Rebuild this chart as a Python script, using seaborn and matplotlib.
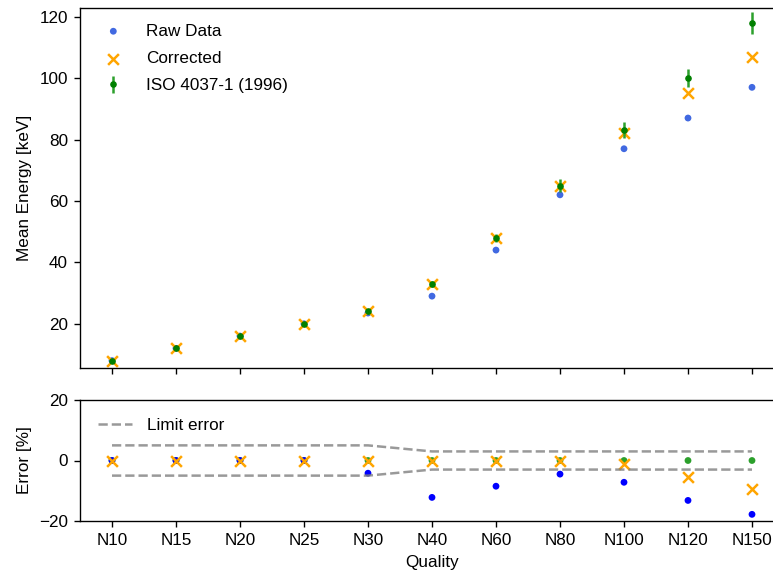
import numpy as np
import matplotlib
matplotlib.use('Agg')
import matplotlib.pyplot as plt
import seaborn as sns

# qualities and energies [keV]
quality = ['N10', 'N15', 'N20', 'N25', 'N30', 'N40', 'N60', 'N80', 'N100', 'N120', 'N150']
raw_energy = [8, 12, 16, 20, 23.5, 29, 44, 62, 77, 87, 97]
corr_energy = [8, 12, 16, 20, 24, 33, 48, 65, 82, 95, 107]
iso_energy = [8, 12, 16, 20, 24, 33, 48, 65, 83, 100, 118]
iso_err = [0.2, 0.4, 0.5, 0.6, 0.7, 1.0, 1.4, 2.0, 2.6, 3.0, 3.5]

# relative error [%]
raw_rel = [0, 0, 0, 0, -4.2, -12.2, -8.5, -4.5, -7.2, -13.2, -17.8]
corr_rel = [0, 0, 0, 0, 0, 0, 0, 0, -1.3, -5.3, -9.5]
iso_rel = [0] * 11
limit_up = [5, 5, 5, 5, 5, 3, 3, 3, 3, 3, 3]
limit_lo = [-5, -5, -5, -5, -5, -3, -3, -3, -3, -3, -3]

sns.set_theme(style='ticks')
plt.rcParams['font.family'] = ['Liberation Sans', 'DejaVu Sans']
sc = 1.23
plt.rcParams.update({
    'font.size': 10 * sc, 'axes.labelsize': 10 * sc, 'xtick.labelsize': 10 * sc,
    'ytick.labelsize': 10 * sc, 'legend.fontsize': 10 * sc,
    'xtick.major.size': 3.5 * sc, 'ytick.major.size': 3.5 * sc,
    'xtick.major.width': 0.8 * sc, 'ytick.major.width': 0.8 * sc,
    'xtick.major.pad': 3.5 * sc, 'ytick.major.pad': 3.5 * sc,
    'axes.linewidth': 0.8 * sc, 'axes.labelpad': 4 * sc,
    'text.color': 'black', 'axes.labelcolor': 'black',
    'xtick.color': 'black', 'ytick.color': 'black', 'axes.edgecolor': 'black',
})

fig, (ax1, ax2) = plt.subplots(2, 1, figsize=(7.73, 5.78), dpi=100, sharex=True)

# top panel
sns.scatterplot(x=quality, y=raw_energy, ax=ax1, color='royalblue', s=24,
                edgecolor='none', label='Raw Data')
sns.scatterplot(x=quality, y=corr_energy, ax=ax1, color='orange', marker='x',
                s=60, linewidth=1.8, label='Corrected')
ax1.errorbar(quality, iso_energy, yerr=iso_err, fmt='.', color='green',
             ecolor='tab:green', markersize=7.5, elinewidth=1.8,
             label='ISO 4037-1 (1996)')
ax1.set_ylim(5.6, 123)
ax1.set_yticks([20, 40, 60, 80, 100, 120])
ax1.set_ylabel('Mean Energy [keV]')
ax1.legend(loc='upper left', frameon=False, handletextpad=0.9, borderaxespad=0.55,
           labelspacing=0.72)
ax1.tick_params(labelbottom=False)

# bottom panel
ax2.plot(quality, limit_up, '--', color='gray', alpha=0.8, lw=1.8, label='Limit error')
ax2.plot(quality, limit_lo, '--', color='gray', alpha=0.8, lw=1.8)
sns.scatterplot(x=quality, y=iso_rel, ax=ax2, color='tab:green', s=24, edgecolor='none')
sns.scatterplot(x=quality, y=raw_rel, ax=ax2, color='blue', s=24, edgecolor='none')
sns.scatterplot(x=quality, y=corr_rel, ax=ax2, color='orange', marker='x', s=60,
                linewidth=1.8)
ax2.set_ylim(-20, 20)
ax2.set_yticks([-20, 0, 20])
ax2.set_ylabel('Error [%]')
ax2.set_xlabel('Quality')
ax2.set_xlim(-0.5, 10.5)
ax2.legend(loc='upper left', frameon=False, borderaxespad=0.65, handletextpad=0.9)

for ax in (ax1, ax2):
    for s in ax.spines.values():
        s.set_visible(True)

W, H = 773, 578
ax1.set_position([80 / W, 1 - 368 / H, (784 - 80) / W, (368 - 7.5) / H])
ax2.set_position([80 / W, 1 - 521 / H, (784 - 80) / W, (521 - 400) / H])
fig.align_ylabels([ax1, ax2])

fig.savefig('out.png', dpi=100)
